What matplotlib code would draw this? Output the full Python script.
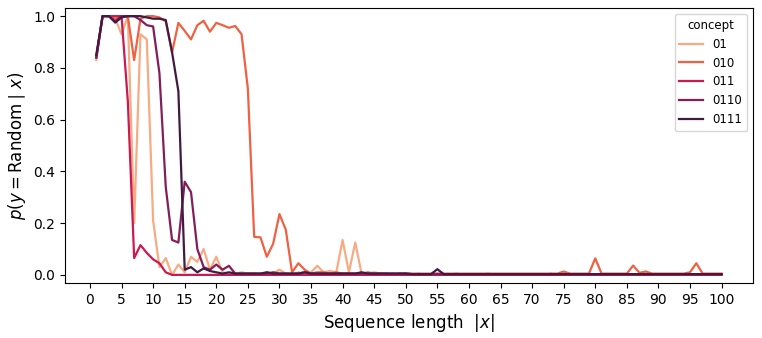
import matplotlib
matplotlib.use("Agg")
import matplotlib.pyplot as plt
import seaborn as sns

# sequence lengths 1..100
lengths = list(range(1, 101))
concepts = ["01", "010", "011", "0110", "0111"]

p_01 = [
    0.83, 1.00, 1.00, 0.99, 0.93, 1.00, 0.20, 0.93, 0.91, 0.21,
    0.03, 0.065, 0.00, 0.04, 0.01, 0.07, 0.05, 0.10, 0.02, 0.07,
    0.01, 0.005, 0.005, 0.01, 0.005, 0.005, 0.00, 0.01, 0.005, 0.02,
    0.005, 0.00, 0.01, 0.005, 0.01, 0.035, 0.01, 0.015, 0.01, 0.135,
    0.01, 0.125, 0.005, 0.005, 0.01, 0.005, 0.00, 0.005, 0.00, 0.005,
    0.00, 0.005, 0.00, 0.00, 0.005, 0.00, 0.00, 0.005, 0.00, 0.00,
    0.00, 0.00, 0.005, 0.00, 0.00, 0.00, 0.00, 0.00, 0.00, 0.00,
    0.00, 0.00, 0.005, 0.00, 0.00, 0.00, 0.00, 0.00, 0.00, 0.00,
    0.00, 0.00, 0.00, 0.00, 0.00, 0.00, 0.00, 0.00, 0.00, 0.00,
    0.00, 0.00, 0.00, 0.00, 0.00, 0.00, 0.00, 0.00, 0.00, 0.00,
]
p_010 = [
    0.84, 1.00, 1.00, 0.99, 1.00, 1.00, 0.83, 0.99, 1.00, 1.00,
    0.995, 0.98, 0.86, 0.974, 0.943, 0.91, 0.965, 0.982, 0.94, 0.974,
    0.965, 0.955, 0.962, 0.93, 0.72, 0.147, 0.145, 0.07, 0.12, 0.235,
    0.175, 0.01, 0.045, 0.02, 0.005, 0.01, 0.01, 0.005, 0.01, 0.005,
    0.005, 0.005, 0.005, 0.01, 0.005, 0.005, 0.005, 0.00, 0.005, 0.005,
    0.005, 0.005, 0.005, 0.005, 0.005, 0.005, 0.005, 0.005, 0.005, 0.005,
    0.005, 0.005, 0.005, 0.005, 0.005, 0.005, 0.005, 0.005, 0.005, 0.005,
    0.005, 0.005, 0.005, 0.005, 0.013, 0.005, 0.005, 0.005, 0.005, 0.064,
    0.005, 0.005, 0.005, 0.005, 0.005, 0.036, 0.008, 0.013, 0.005, 0.005,
    0.005, 0.005, 0.005, 0.005, 0.01, 0.045, 0.005, 0.005, 0.005, 0.005,
]
p_011 = [
    0.84, 1.00, 1.00, 1.00, 1.00, 0.67, 0.065, 0.115, 0.085, 0.06,
    0.045, 0.01, 0.00, 0.00, 0.00, 0.00, 0.00, 0.00, 0.00, 0.00,
    0.00, 0.00, 0.00, 0.00, 0.00, 0.00, 0.00, 0.00, 0.00, 0.00,
    0.00, 0.00, 0.00, 0.00, 0.00, 0.00, 0.00, 0.00, 0.00, 0.00,
    0.00, 0.00, 0.00, 0.00, 0.00, 0.00, 0.00, 0.00, 0.00, 0.00,
    0.00, 0.00, 0.00, 0.00, 0.00, 0.00, 0.00, 0.00, 0.00, 0.00,
    0.00, 0.00, 0.00, 0.00, 0.00, 0.00, 0.00, 0.00, 0.00, 0.00,
    0.00, 0.00, 0.00, 0.00, 0.00, 0.00, 0.00, 0.00, 0.00, 0.00,
    0.00, 0.00, 0.00, 0.00, 0.00, 0.00, 0.00, 0.00, 0.00, 0.00,
    0.00, 0.00, 0.00, 0.00, 0.00, 0.00, 0.00, 0.00, 0.00, 0.00,
]
p_0110 = [
    0.84, 1.00, 1.00, 0.98, 1.00, 1.00, 1.00, 0.985, 0.965, 0.96,
    0.78, 0.34, 0.135, 0.125, 0.36, 0.32, 0.10, 0.03, 0.02, 0.04,
    0.02, 0.035, 0.005, 0.005, 0.005, 0.005, 0.005, 0.005, 0.01, 0.005,
    0.005, 0.005, 0.005, 0.01, 0.005, 0.005, 0.005, 0.005, 0.005, 0.005,
    0.005, 0.005, 0.005, 0.005, 0.005, 0.005, 0.005, 0.005, 0.005, 0.005,
    0.003, 0.003, 0.003, 0.003, 0.003, 0.003, 0.003, 0.003, 0.003, 0.003,
    0.003, 0.003, 0.003, 0.003, 0.003, 0.003, 0.003, 0.003, 0.003, 0.003,
    0.003, 0.003, 0.003, 0.003, 0.003, 0.003, 0.003, 0.003, 0.003, 0.003,
    0.003, 0.003, 0.003, 0.003, 0.003, 0.003, 0.003, 0.003, 0.003, 0.003,
    0.003, 0.003, 0.003, 0.003, 0.003, 0.003, 0.003, 0.003, 0.003, 0.003,
]
p_0111 = [
    0.85, 1.00, 1.00, 0.975, 0.995, 1.00, 1.00, 1.00, 0.995, 0.99,
    0.99, 0.985, 0.86, 0.71, 0.02, 0.03, 0.01, 0.025, 0.015, 0.01,
    0.005, 0.01, 0.005, 0.005, 0.005, 0.005, 0.005, 0.01, 0.005, 0.005,
    0.005, 0.005, 0.005, 0.01, 0.005, 0.005, 0.005, 0.005, 0.005, 0.005,
    0.005, 0.005, 0.01, 0.005, 0.005, 0.005, 0.005, 0.005, 0.005, 0.005,
    0.003, 0.003, 0.003, 0.003, 0.022, 0.003, 0.003, 0.003, 0.003, 0.003,
    0.003, 0.003, 0.003, 0.003, 0.003, 0.003, 0.003, 0.003, 0.003, 0.003,
    0.003, 0.003, 0.003, 0.003, 0.003, 0.003, 0.003, 0.003, 0.003, 0.003,
    0.003, 0.003, 0.003, 0.003, 0.003, 0.003, 0.003, 0.003, 0.003, 0.003,
    0.003, 0.003, 0.003, 0.003, 0.003, 0.003, 0.003, 0.003, 0.003, 0.003,
]

series = [p_01, p_010, p_011, p_0110, p_0111]
colors = sns.color_palette("rocket_r", len(concepts))

fig, ax = plt.subplots(figsize=(7.62, 3.38), dpi=100)
fig.subplots_adjust(left=0.0853, right=0.988, top=0.976, bottom=0.163)

for name, values, color in zip(concepts, series, colors):
    ax.plot(lengths, values, color=color, linewidth=1.6, label=name)

ax.set_xticks(range(0, 101, 5))
ax.set_ylim(-0.031, 1.031)
ax.tick_params(labelsize=10)
ax.set_xlabel(r"Sequence length  $|x|$", fontsize=12)
ax.set_ylabel(r"$p(y = \mathrm{Random} \mid x)$", fontsize=12)
ax.legend(title="concept", loc="upper right", fontsize=8.5, title_fontsize=8.5)

fig.savefig("out.png", dpi=100)
